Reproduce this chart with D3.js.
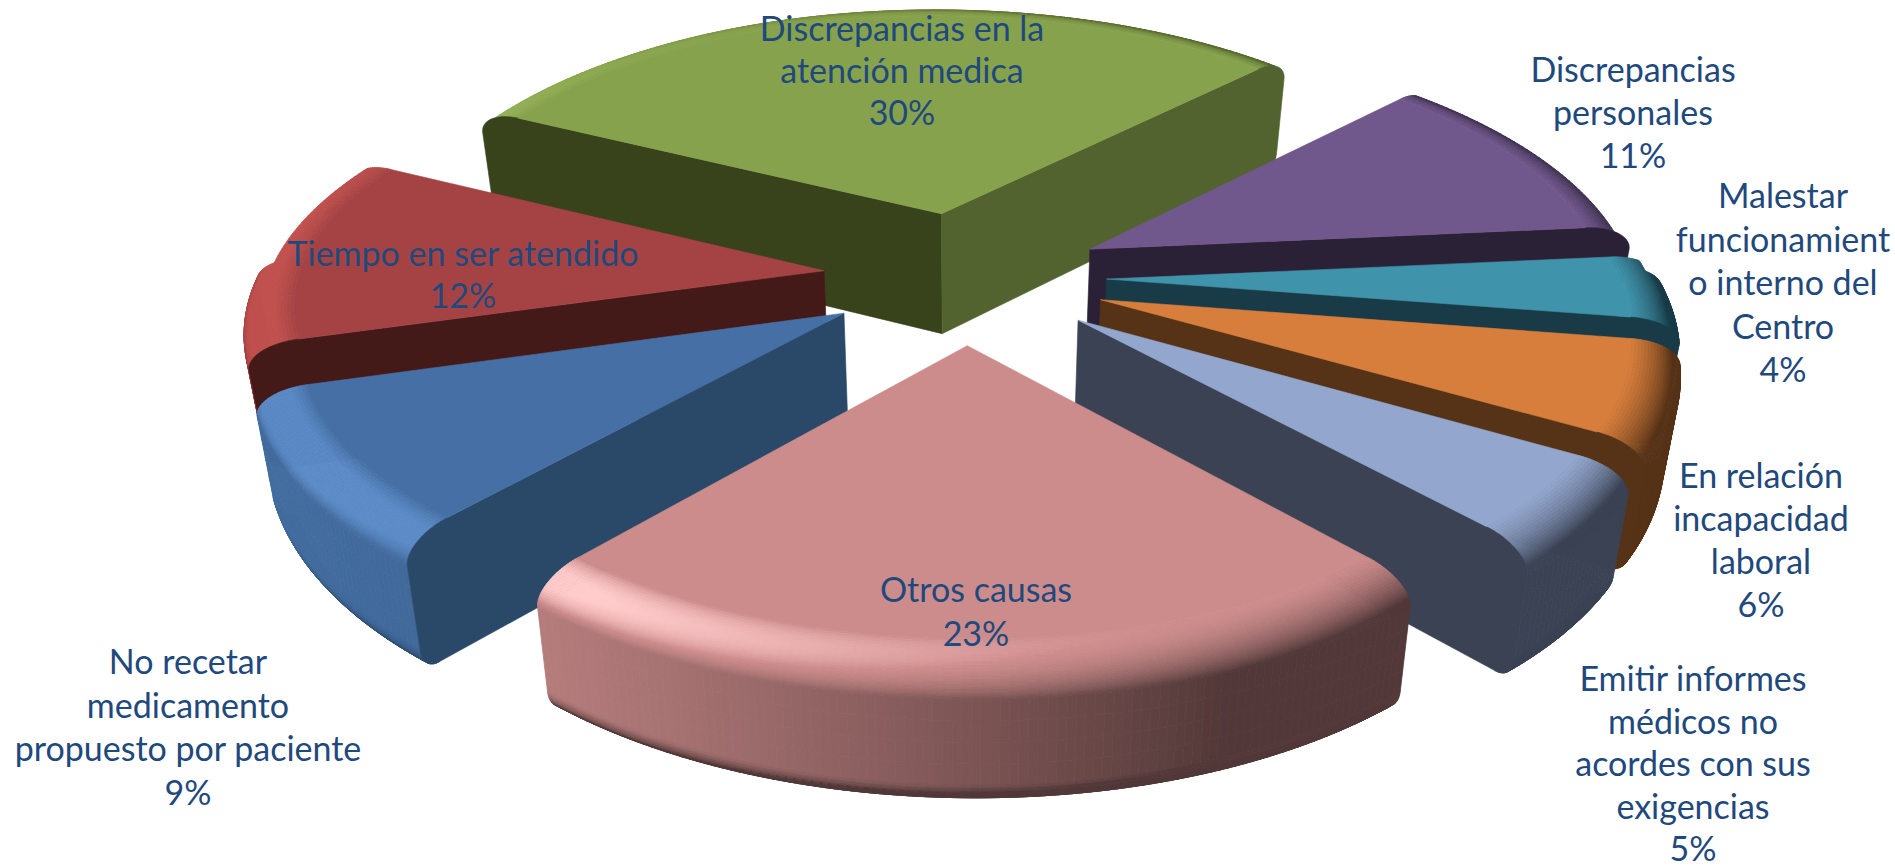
<!DOCTYPE html>
<html><head><meta charset="utf-8">
<script src="https://cdn.jsdelivr.net/npm/d3@7/dist/d3.min.js"></script>
<style>html,body{margin:0;padding:0;background:#fff;overflow:hidden}svg{display:block}</style>
</head><body><svg id="c" width="1895" height="867"></svg>
<script>
const categories = ["Discrepancias en la atención medica","Discrepancias personales","Malestar funcionamiento interno del Centro","En relación incapacidad laboral","Emitir informes médicos no acordes con sus exigencias","Otros causas","No recetar medicamento propuesto por paciente","Tiempo en ser atendido"];
const values = [30,11,4,6,5,23,9,12];
const topColors = ["#87a24d","#70578c","#3f93ab","#d77e3c","#93a7ce","#cd8c8c","#4670a5","#a54344"];
const highlightColors = ["#9db85a","#8068a0","#4fa8c0","#e89050","#a8bce0","#ffcaca","#5b8ac6","#c0504d"];
const startWallColors = ["#38431c","#2b2137","#183b47","#563216","#3a4254","#523838","#2a4969","#441a19"];
const endWallColors = ["#53632f","#2b2137","#183b47","#563216","#3a4254","#523838","#2a4969","#441a19"];
const labelLines = [["Discrepancias en la","atención medica"],["Discrepancias","personales"],["Malestar","funcionamient","o interno del","Centro"],["En relación","incapacidad","laboral"],["Emitir informes","médicos no","acordes con sus","exigencias"],["Otros causas"],["No recetar","medicamento","propuesto por paciente"],["Tiempo en ser atendido"]];
// layout of the labels (centre x, first baseline, line step), kept apart from the data
const labelCx = [902,1633,1783,1761,1693,976,188,463];
const labelTop = [41,82,208,488,691,602,674,266];
const labelStep = [42,43,43.6,43,42.6,44,43.5,42];

const cfg = {cx:965, cy:277, R:572, a:0.14, b:265, H:122, e:0.25, rf:0.91, start:-63, bz:0.2, ky:0.985, shear:9, backSqueeze:0.012, converge:0.035, leftBulge:14};
const rad = Math.PI/180;
const rScale = d3.scaleLinear().domain([0,1]).range([0,cfg.R]);
const yScale = d3.scaleLinear().domain([0,1]).range([0,cfg.b]);
const zScale = d3.scaleLinear().domain([0,1]).range([0,cfg.H]);
const svg = d3.select("#c");
const lineGen = d3.line().curve(d3.curveLinearClosed);

const arcs = d3.pie().sort(null).value(d=>d)
  .startAngle(cfg.start*rad).endAngle(cfg.start*rad+2*Math.PI)(values);

function project(X,Y,z){
  const s = 1/(1-cfg.a*Y);
  const sx = s*(1+cfg.backSqueeze*(Y-0.95))*(1-cfg.converge*z);
  const lx = Math.max(0,-X/1.25), bulge = cfg.leftBulge*lx*lx*Math.max(0,1-Y*Y);
  return [cfg.cx+cfg.shear*Y+rScale(X)*sx-bulge, cfg.cy+yScale(Y)*s+zScale(z)*Math.sqrt(s)];
}
// cross-section of the rounded rim: radius, depth and normal tilt
const profile = [];
d3.range(0,25).forEach(i=>{const p=i/24*90*rad;
  profile.push({r:cfg.rf+(1-cfg.rf)*Math.sin(p), z:cfg.bz*(1-Math.cos(p)), phi:p});});
d3.range(1,5).forEach(i=>{profile.push({r:1, z:cfg.bz+(0.84-cfg.bz)*i/4, phi:90*rad});});
d3.range(1,11).forEach(i=>{const u=i/10, p=(90+u*70)*rad;
  profile.push({r:1-0.035*u*u, z:0.84+0.16*Math.sin(u*Math.PI/2), phi:p});});

const L = {x:-0.62, y:0.25, z:0.74};
function shade(base,hi,dark,theta,phi){
  const nx=Math.sin(phi)*Math.sin(theta), ny=-Math.sin(phi)*Math.cos(theta), nz=Math.cos(phi);
  const v=(nx*L.x+ny*L.y+nz*L.z)/L.z;
  if(v<=1) return d3.interpolateRgb(dark,base)(Math.max(0,v));
  return d3.interpolateRgb(base,hi)(Math.min(1,(v-1)/0.25));
}

const order = arcs.map((d,i)=>i).sort((p,q)=>{
  const m=d=>(d.startAngle+d.endAngle)/2;
  return (-Math.cos(m(arcs[p])))-(-Math.cos(m(arcs[q])));
});

order.forEach(i=>{
  const d=arcs[i], base=topColors[i], hi=highlightColors[i];
  const mid=(d.startAngle+d.endAngle)/2;
  const ox=cfg.e*Math.sin(mid), oy=-cfg.e*Math.cos(mid);
  const pt=(r,t,z)=>project(ox+r*Math.sin(t), oy-cfg.ky*r*Math.cos(t), z);
  const g=svg.append("g").attr("class","slice").attr("data-name",categories[i]);
  const n=Math.max(4,Math.round((d.endAngle-d.startAngle)/rad/0.8));
  const angs=d3.range(0,n+1).map(k=>d.startAngle+(d.endAngle-d.startAngle)*k/n);

  // rim mesh, farthest cells first
  const dark=Math.sin(mid)>0?endWallColors[i]:startWallColors[i];
  const cells=[];
  d3.range(n).forEach(k=>{const t0=angs[k],t1=angs[k+1],tm=(t0+t1)/2;
    d3.range(profile.length-1).forEach(j=>{
      const p=profile[j],q=profile[j+1];
      if(Math.cos(tm)>0.05 && p.phi>35*rad) return; // back side: only the top of the bevel can show
      cells.push({depth:-Math.cos(tm),j,pts:[pt(p.r,t0,p.z),pt(p.r,t1,p.z),pt(q.r,t1,q.z),pt(q.r,t0,q.z)],
        fill:shade(base,hi,dark,tm,(p.phi+q.phi)/2)});
    });
  });
  cells.sort((u,w)=>u.depth-w.depth||u.j-w.j);
  g.append("g").selectAll("path").data(cells).join("path")
    .attr("d",c=>lineGen(c.pts)).attr("fill",c=>c.fill).attr("stroke",c=>c.fill).attr("stroke-width",0.8);

  // radial cut walls, only when they face the viewer
  [[d.startAngle,startWallColors[i],d.startAngle-Math.PI/2],[d.endAngle,endWallColors[i],d.endAngle+Math.PI/2]].forEach(w=>{
    if(-Math.cos(w[2])<=0) return;
    const poly=[pt(0,w[0],0)].concat(profile.map(p=>pt(p.r,w[0],p.z))).concat([pt(0,w[0],1)]);
    g.append("path").attr("d",lineGen(poly)).attr("fill",w[1]).attr("stroke",w[1]).attr("stroke-width",0.6);
  });

  // flat top face
  const top=[pt(0,d.startAngle,0)].concat(angs.map(t=>pt(cfg.rf,t,0)));
  g.append("path").attr("d",lineGen(top)).attr("fill",base).attr("stroke",base).attr("stroke-width",0.6);
});

// labels
const pct=d3.format(".0%"), total=d3.sum(values);
const labels=svg.append("g").attr("font-family","Lato, 'Open Sans', sans-serif").attr("font-size",34).attr("fill","#1f497d").attr("text-anchor","middle");
labelLines.forEach((lines,i)=>{
  const t=labels.append("text");
  lines.concat([pct(values[i]/total)]).forEach((s,k)=>{
    t.append("tspan").attr("x",labelCx[i]).attr("y",labelTop[i]+k*labelStep[i]).text(s);
  });
});
</script></body></html>
